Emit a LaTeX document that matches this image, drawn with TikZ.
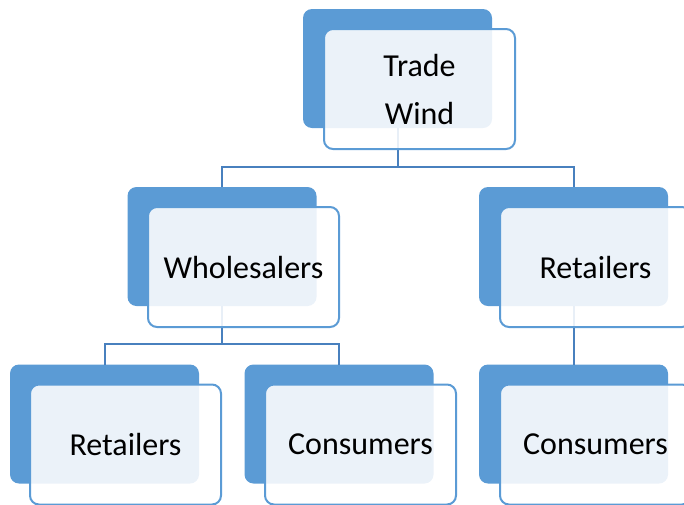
\documentclass[tikz,border=0pt]{standalone}
\usepackage{fontspec}
\setmainfont{Carlito}
\definecolor{boxblue}{RGB}{91,155,213}
\definecolor{lineblue}{RGB}{72,128,190}
\begin{document}
\begin{tikzpicture}[x=1pt,y=-1pt,
  backbox/.style={fill=boxblue, rounded corners=9pt, minimum width=189pt, minimum height=119pt, inner sep=0pt, outer sep=0pt},
  frontbox/.style={draw=boxblue, line width=2pt, fill=white, fill opacity=0.88, text opacity=1, rounded corners=9pt, minimum width=191pt, minimum height=120pt, inner sep=0pt, outer sep=0pt, font=\fontsize{32}{48}\selectfont, align=center},
  conn/.style={draw=lineblue, line width=2pt}]
\useasboundingbox (0,0) rectangle (684,504);
\clip (0,0) rectangle (684,504);
% back boxes
\node[backbox] (twb) at (397.5,68.5) {};
\node[backbox] (wsb) at (222,246.5) {};
\node[backbox] (rtb) at (573.5,246.5) {};
\node[backbox] (r3b) at (104.5,424) {};
\node[backbox] (c3b) at (339,424) {};
\node[backbox] (c4b) at (573.5,424) {};
% connectors
\draw[conn] (twb.south) -- ++(0,39) -| (wsb.north);
\draw[conn] (twb.south) ++(0,39) -| (rtb.north);
\draw[conn] (wsb.south) -- ++(0,38) -| (r3b.north);
\draw[conn] (wsb.south) ++(0,38) -| (c3b.north);
\draw[conn] (rtb.south) -- (c4b.north);
% front boxes
\node[frontbox] (tw) at (419.5,89) {Trade\\Wind};
\node[frontbox] (ws) at (243.5,267) {Wholesalers};
\node[frontbox] (rt) at (595.5,267) {Retailers};
\node[frontbox] (r3) at (125.5,444.5) {Retailers};
\node[frontbox] (c3) at (360.5,444.5) {Consumers};
\node[frontbox] (c4) at (595.5,444.5) {Consumers};
\end{tikzpicture}
\end{document}
